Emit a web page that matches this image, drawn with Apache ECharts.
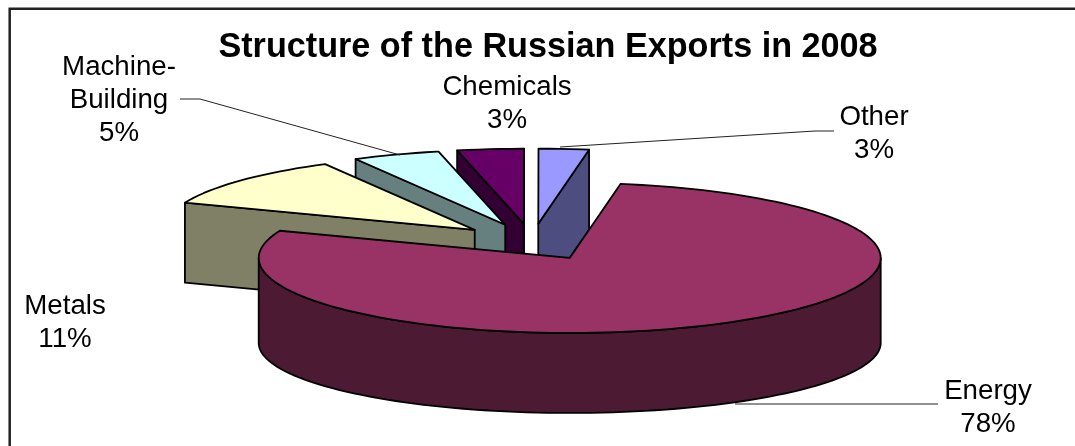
<!DOCTYPE html>
<html><head><meta charset="utf-8">
<style>html,body{margin:0;padding:0;background:#fff}#c{width:1075px;height:446px}</style>
<script src="https://cdn.jsdelivr.net/npm/echarts@6/dist/echarts.min.js"></script>
</head><body><div id="c"></div>
<script>
// Data
const categories = ['Energy', 'Metals', 'Machine-\nBuilding', 'Chemicals', 'Other'];
const shares = [78.3, 11.1, 4.55, 3.45, 2.6];
const titleText = 'Structure of the Russian Exports in 2008';
// Styles
const topColors = ['#993366', '#ffffcc', '#ccffff', '#660066', '#9999ff'];
const sideColors = ['#4d1a33', '#808066', '#668080', '#330033', '#4d4d80'];
// Pie layout
const pie = {cx: 532, cy: 242, rx: 311, ry: 75, depth: 80, rimDepth: 85, rimTaper: 5, explode: 0.245, firstAngle: 9.4};
const labelAnchors = [[988, 375], [65, 290], [119, 51], [507, 71], [874, 101]];
const leaderPaths = [
  [[938, 404], [920, 404], [735, 404]],
  null,
  [[180, 99], [200, 99], [400, 155]],
  null,
  [[834, 131], [815, 131], [560, 147]]
];

const chart = echarts.init(document.getElementById('c'), null, {renderer: 'canvas'});
const rad = d => d * Math.PI / 180;
const total = shares.reduce((a, b) => a + b, 0);

function renderSlice(params, api) {
  const i = params.dataIndex;
  let start = pie.firstAngle;
  for (let k = 0; k < i; k++) start += shares[k] / total * 360;
  const sweep = api.value(0) / total * 360;
  const end = start + sweep, mid = start + sweep / 2;
  const ax = pie.cx + pie.explode * pie.rx * Math.sin(rad(mid));
  const ay = pie.cy - pie.explode * pie.ry * Math.cos(rad(mid));
  const rim = t => [ax + pie.rx * Math.sin(rad(t)), ay - pie.ry * Math.cos(rad(t))];
  const drop = p => [p[0], p[1] + pie.depth];
  const rimDrop = t => {
    const p = rim(t);
    return [p[0], p[1] + pie.rimDepth + pie.rimTaper * Math.cos(rad(t))];
  };
  const A = [ax, ay], rank = (categories.length - i) * 10;
  const lineStyle = {stroke: '#000', lineWidth: 1.8, lineJoin: 'round'};
  const poly = (pts, fill, z) => ({type: 'polygon', z2: rank + z, shape: {points: pts},
    style: Object.assign({fill: fill}, lineStyle)});
  const children = [];

  // radial walls
  const M = rim(mid);
  [start, end].forEach(t => {
    const R = rim(t);
    const e = [R[0] - ax, R[1] - ay], n = [M[0] - ax, M[1] - ay];
    const crossI = e[0] * n[1] - e[1] * n[0], crossD = e[0];
    if (crossI * crossD < 0) {
      children.push(poly([A, R, drop(R), drop(A)], sideColors[i], 1));
    }
  });
  // outer wall: the front half of the rim
  [[90, 270], [450, 630]].forEach(([f, t]) => {
    const a = Math.max(start, f), b = Math.min(end, t);
    if (b > a) {
      const upper = [], lower = [];
      for (let d = a; d < b; d += 2) { upper.push(rim(d)); lower.push(rimDrop(d)); }
      upper.push(rim(b)); lower.push(rimDrop(b));
      children.push(poly(upper.concat(lower.reverse()), sideColors[i], 2));
    }
  });
  // top face
  const top = [A];
  for (let d = start; d < end; d += 2) top.push(rim(d));
  top.push(rim(end));
  children.push(poly(top, topColors[i], 3));
  return {type: 'group', children: children};
}

const labelGraphics = categories.map((c, i) => ({
  type: 'text', x: labelAnchors[i][0], y: labelAnchors[i][1], z: 20,
  style: {text: c + '\n' + Math.round(shares[i]) + '%', fill: '#000', align: 'center',
    verticalAlign: 'top', font: '27.7px "Liberation Sans", Arial, sans-serif', lineHeight: 33}
}));
const leaderGraphics = leaderPaths.filter(Boolean).map(p => ({
  type: 'polyline', z: 19, shape: {points: p}, style: {stroke: '#222', lineWidth: 1, fill: 'none'}
}));

chart.setOption({
  animation: false,
  backgroundColor: '#fff',
  title: {text: titleText, left: 543, top: 26, textAlign: 'center',
    textStyle: {fontFamily: '"Liberation Sans", Arial, sans-serif', fontWeight: 'bold', fontSize: 34.2, color: '#000'}},
  series: [{
    type: 'custom', coordinateSystem: 'none', renderItem: renderSlice,
    data: shares.map((v, i) => ({name: categories[i], value: [v]})), silent: true, z: 5
  }],
  graphic: [
    {type: 'polyline', z: 1, shape: {points: [[9.7, 446], [9.7, 8.7], [1075, 8.7]]},
     style: {fill: 'none', stroke: '#222', lineWidth: 2.5}}
  ].concat(leaderGraphics, labelGraphics)
});
</script></body></html>
